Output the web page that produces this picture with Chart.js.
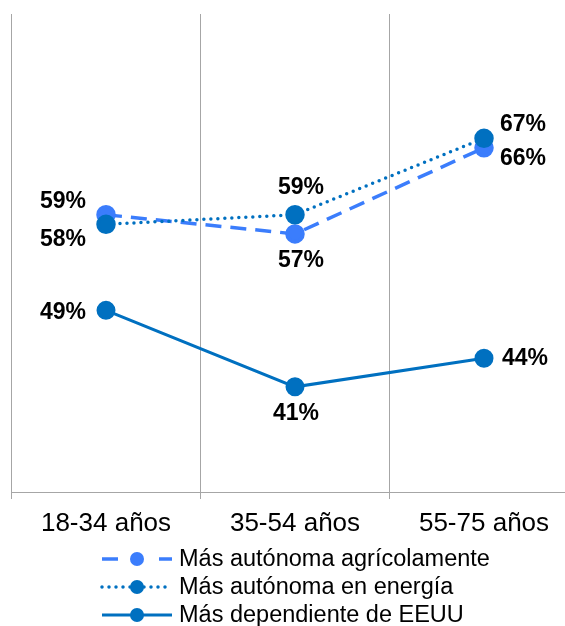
<!DOCTYPE html>
<html>
<head>
<meta charset="utf-8">
<script src="https://cdn.jsdelivr.net/npm/chart.js@4/dist/chart.umd.min.js"></script>
<style>
  html, body { margin: 0; padding: 0; background: #fff; overflow: hidden; }
  #wrap { width: 565px; height: 626px; overflow: hidden; }
</style>
</head>
<body>
<div id="wrap"><canvas id="myChart" width="590" height="626" style="width:590px;height:626px"></canvas></div>
<script>
// age groups and survey shares (%)
const ageGroups = ['18-34 años', '35-54 años', '55-75 años'];
const agricola = [59, 57, 66];
const energia = [58, 59, 67];
const dependiente = [49, 41, 44];
const seriesNames = ['Más autónoma agrícolamente', 'Más autónoma en energía', 'Más dependiente de EEUU'];

const lightBlue = '#3b7dfc';
const darkBlue = '#0070c0';

// where each value label sits relative to its point [dx, dy]
const labelOffsets = [
  [[-43, -13], [6, 27], [39, 11]],
  [[-43, 15], [6, -27], [39, -14]],
  [[-43, 2], [1, 27], [41, 0]]
];

// value labels next to the points
const valueLabels = {
  id: 'valueLabels',
  afterDatasetsDraw(chart) {
    const ctx = chart.ctx;
    ctx.save();
    ctx.font = 'bold 23px "Liberation Sans", Arial, sans-serif';
    ctx.fillStyle = '#000';
    ctx.textAlign = 'center';
    ctx.textBaseline = 'middle';
    chart.data.datasets.forEach((ds, i) => {
      chart.getDatasetMeta(i).data.forEach((pt, j) => {
        const off = labelOffsets[i][j];
        ctx.fillText(ds.data[j] + '%', pt.x + off[0], pt.y + off[1]);
      });
    });
    ctx.restore();
  }
};

// legend drawn under the axis, line sample with a marker in the middle
const sampleLegend = {
  id: 'sampleLegend',
  afterDraw(chart) {
    const ctx = chart.ctx;
    const x0 = 102, x1 = 172, textX = 179;
    const rows = [559, 587, 615];
    ctx.save();
    chart.data.datasets.forEach((ds, i) => {
      const y = rows[i];
      ctx.strokeStyle = ds.borderColor;
      ctx.lineWidth = ds.borderWidth;
      ctx.lineCap = ds.borderCapStyle || 'butt';
      ctx.setLineDash(ds.borderDash || []);
      ctx.beginPath();
      if (i === 0) {
        ctx.moveTo(x0, y); ctx.lineTo(x0 + 16, y);
        ctx.moveTo(x1 - 13, y); ctx.lineTo(x1, y);
      } else {
        ctx.moveTo(x0, y); ctx.lineTo(x1, y);
      }
      ctx.stroke();
      ctx.setLineDash([]);
      ctx.fillStyle = ds.pointBackgroundColor;
      ctx.beginPath();
      ctx.arc((x0 + x1) / 2, y, 7, 0, Math.PI * 2);
      ctx.fill();
      ctx.fillStyle = '#000';
      ctx.font = '23.5px "Liberation Sans", Arial, sans-serif';
      ctx.textAlign = 'left';
      ctx.textBaseline = 'middle';
      ctx.fillText(ds.label, textX, y + 1);
    });
    ctx.restore();
  }
};

const data = {
  labels: ageGroups,
  datasets: [{
    label: seriesNames[0],
    data: agricola,
    borderColor: lightBlue,
    pointBackgroundColor: lightBlue,
    borderWidth: 3.5,
    borderDash: [16, 9],
    order: 3
  }, {
    label: seriesNames[1],
    data: energia,
    borderColor: darkBlue,
    pointBackgroundColor: darkBlue,
    borderWidth: 3.5,
    borderDash: [0, 7],
    borderCapStyle: 'round',
    order: 2
  }, {
    label: seriesNames[2],
    data: dependiente,
    borderColor: darkBlue,
    pointBackgroundColor: darkBlue,
    borderWidth: 3,
    order: 1
  }]
};

const config = {
  type: 'line',
  data: data,
  options: {
    responsive: false,
    animation: false,
    layout: { padding: { left: 9, right: 11, top: 14, bottom: 0 } },
    elements: {
      line: { tension: 0 },
      point: { radius: 8, borderWidth: 0, hoverRadius: 8 }
    },
    plugins: {
      legend: { display: false },
      tooltip: { enabled: false }
    },
    scales: {
      x: {
        offset: true,
        grid: { offset: true, color: '#a6a6a6', lineWidth: 1, tickLength: 7 },
        border: { color: '#a6a6a6', width: 1 },
        ticks: {
          color: '#000',
          padding: 9,
          font: { family: '"Liberation Sans", Arial, sans-serif', size: 26 }
        },
        afterFit(scale) { scale.height = 134; }
      },
      y: {
        display: false,
        min: 30,
        max: 80
      }
    }
  },
  plugins: [valueLabels, sampleLegend]
};

const myChart = new Chart(document.getElementById('myChart'), config);
</script>
</body>
</html>
